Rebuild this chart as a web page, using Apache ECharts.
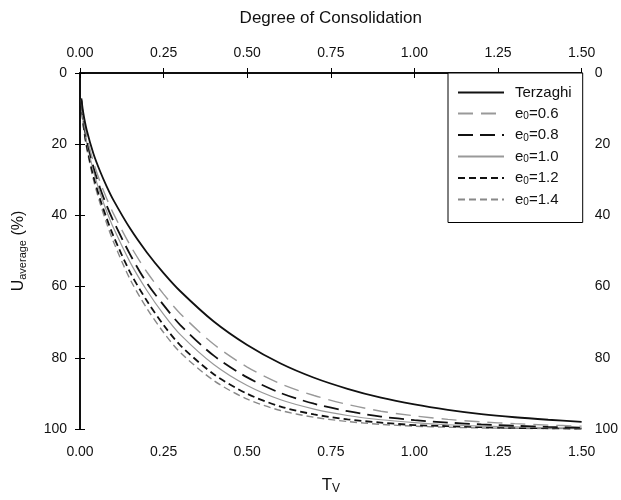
<!DOCTYPE html>
<html>
<head>
<meta charset="utf-8">
<script src="https://cdn.jsdelivr.net/npm/echarts@6/dist/echarts.min.js"></script>
<style>
  html, body { margin: 0; padding: 0; background: #fff; }
  #chart { width: 621px; height: 500px; }
</style>
</head>
<body>
<div id="chart"></div>
<script>
// time factor Tv
var tv = [0.004, 0.01, 0.02, 0.04, 0.06, 0.08, 0.1, 0.15, 0.2, 0.25, 0.3, 0.4, 0.5,
          0.6, 0.7, 0.8, 0.9, 1.0, 1.1, 1.2, 1.3, 1.4, 1.5];
// average degree of consolidation (%)
var terzaghi = [7.1, 11.3, 16.0, 22.6, 27.6, 31.9, 35.7, 43.7, 50.4, 56.2, 61.3, 69.8, 76.4,
                81.6, 85.6, 88.7, 91.2, 93.1, 94.6, 95.8, 96.7, 97.4, 98.0];
var e06 = [7.3, 12.6, 17.8, 25.0, 30.6, 35.3, 39.5, 48.4, 55.9, 62.1, 67.6, 76.2, 82.6,
           87.3, 90.6, 93.1, 95.0, 96.3, 97.3, 98.0, 98.5, 98.9, 99.2];
var e08 = [7.5, 13.2, 18.6, 26.3, 32.3, 37.3, 41.6, 51.0, 59.0, 65.2, 70.8, 79.4, 85.5,
           89.9, 92.9, 95.0, 96.5, 97.5, 98.2, 98.7, 99.1, 99.4, 99.6];
var e10 = [7.7, 13.7, 19.4, 27.5, 33.7, 38.9, 43.5, 53.2, 61.1, 67.8, 73.5, 81.9, 87.8,
           91.8, 94.4, 96.2, 97.4, 98.2, 98.8, 99.2, 99.4, 99.6, 99.7];
var e12 = [7.9, 14.4, 20.4, 28.9, 35.4, 40.9, 45.8, 56.0, 64.0, 70.8, 76.5, 84.6, 90.1,
           93.7, 95.9, 97.3, 98.2, 98.9, 99.2, 99.5, 99.7, 99.8, 99.9];
var e14 = [8.1, 14.9, 21.1, 29.9, 36.6, 42.3, 47.4, 58.0, 66.1, 72.9, 78.5, 86.4, 91.6,
           94.8, 96.7, 97.9, 98.7, 99.2, 99.5, 99.7, 99.8, 99.9, 99.9];
var seriesNames = ["Terzaghi", "e0=0.6", "e0=0.8", "e0=1.0", "e0=1.2", "e0=1.4"];

var font = "Liberation Sans";

function pairs(vals) {
  return tv.map(function (t, i) { return [t, vals[i]]; });
}

var styles = [
  { color: "#111", width: 1.8, type: "solid" },
  { color: "#999", width: 1.4, type: [15, 8] },
  { color: "#111", width: 1.8, type: [15, 7] },
  { color: "#999", width: 1.2, type: "solid" },
  { color: "#111", width: 1.8, type: [7, 4] },
  { color: "#888", width: 1.4, type: [7, 4] }
];
var allVals = [terzaghi, e06, e08, e10, e12, e14];

var axisCommon = {
  type: "value",
  min: 0,
  max: 1.5,
  interval: 0.25,
  splitLine: { show: false },
  axisLine: { lineStyle: { color: "#000", width: 1.5 } },
  axisTick: { length: 5, lineStyle: { color: "#000" } },
  axisLabel: {
    color: "#111",
    fontSize: 14,
    margin: 13,
    fontFamily: font,
    formatter: function (v) { return v.toFixed(2); }
  }
};

var yCommon = {
  type: "value",
  min: 0,
  max: 100,
  interval: 20,
  inverse: true,
  splitLine: { show: false },
  axisLine: { show: true, lineStyle: { color: "#000", width: 1.5 } },
  axisTick: { show: true, length: 5, lineStyle: { color: "#000" } },
  axisLabel: { color: "#111", fontSize: 14, margin: 13, fontFamily: font }
};

var option = {
  animation: false,
  backgroundColor: "#fff",
  grid: { left: 80, right: 38, top: 73, bottom: 68 },
  xAxis: [
    Object.assign({}, axisCommon, {
      position: "bottom",
      axisLabel: Object.assign({}, axisCommon.axisLabel, { margin: 16 }),
      name: "{t|T}{s|V}",
      nameLocation: "middle",
      nameGap: 46,
      nameTextStyle: {
        rich: {
          t: { fontSize: 17, fontFamily: font, color: "#111" },
          s: { fontSize: 12, fontFamily: font, color: "#111", padding: [8, 0, 0, 0] }
        }
      }
    }),
    Object.assign({}, axisCommon, {
      position: "top",
      name: "Degree of Consolidation",
      nameLocation: "middle",
      nameGap: 46,
      nameTextStyle: { fontSize: 17, fontFamily: font, color: "#111" }
    })
  ],
  yAxis: [
    Object.assign({}, yCommon, {
      position: "left",
      name: "{u|U}{s|average}{u| (%)}",
      nameLocation: "middle",
      nameGap: 52,
      nameTextStyle: {
        rich: {
          u: { fontSize: 16, fontFamily: font, color: "#111" },
          s: { fontSize: 11, fontFamily: font, color: "#111", padding: [7, 0, 0, 0] }
        }
      }
    }),
    Object.assign({}, yCommon, { position: "right" })
  ],
  legend: {
    orient: "vertical",
    left: 448,
    top: 73,
    padding: [12, 11, 15, 9],
    itemGap: 6,
    itemWidth: 46,
    itemHeight: 12,
    backgroundColor: "#fff",
    borderColor: "#000",
    borderWidth: 1,
    borderRadius: 0,
    itemStyle: { opacity: 0 },
    data: seriesNames,
    formatter: function (name) {
      if (name.indexOf("e0=") === 0) {
        return "{n|e}{s|0}{n|" + name.slice(2) + "}";
      }
      return "{n|" + name + "}";
    },
    textStyle: {
      padding: [0, 0, 0, 6],
      rich: {
        n: { fontSize: 15, fontFamily: font, color: "#111" },
        s: { fontSize: 10, fontFamily: font, color: "#111", padding: [6, 0, 0, 0] }
      }
    }
  },
  series: seriesNames.map(function (name, i) {
    return {
      name: name,
      type: "line",
      xAxisIndex: 0,
      yAxisIndex: 0,
      symbol: "none",
      smooth: 0.3,
      z: 10 - i,
      lineStyle: styles[i],
      itemStyle: { color: styles[i].color },
      data: pairs(allVals[i])
    };
  })
};

var myChart = echarts.init(document.getElementById("chart"));
myChart.setOption(option);
</script>
</body>
</html>
